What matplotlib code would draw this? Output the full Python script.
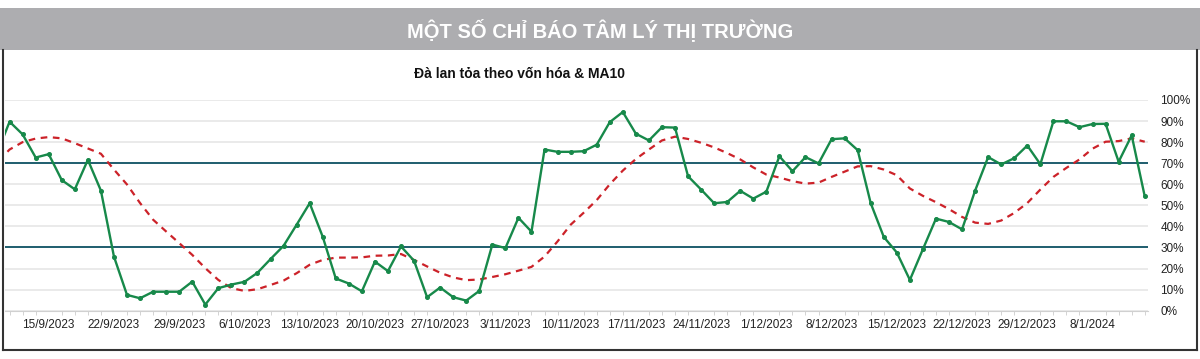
import matplotlib.pyplot as plt
from matplotlib.patches import Rectangle
from matplotlib.lines import Line2D

# breadth by market cap (%), one value per trading day, 11/9/2023 -> 12/1/2024
breadth = [74,
           89.7, 83.7, 72.7, 74.3, 62, 57.6, 71.6, 57, 25.7, 7.5,
           5.9, 9, 9, 9, 13.8, 2.9, 10.7, 12.4, 13.7, 18,
           24.5, 30.8, 40.8, 51, 35.1, 15.3, 12.9, 9.2, 23.3, 18.8,
           30.5, 23.7, 6.4, 11, 6.4, 4.8, 9.4, 31.4, 29.7, 44.1,
           37.5, 76.5, 75.4, 75.4, 75.7, 78.8, 89.5, 94.3, 84, 80.8,
           87.1, 86.9, 63.8, 57.5, 51, 51.6, 56.9, 53.2, 56.5, 73.3,
           66.2, 72.9, 69.9, 81.4, 81.8, 76.2, 51, 35, 27.6, 14.6,
           29.2, 43.7, 42.1, 38.6, 57, 72.9, 69.4, 72.4, 78.4, 69.5,
           89.9, 89.9, 87.1, 88.6, 88.7, 70.7, 83.2, 54.3]

ma10 = [70,
        76.5, 80, 81.7, 82.4, 81.8, 79.5, 77, 74.5, 67, 59.9,
        51.1, 43.2, 37.6, 32.1, 26.5, 20.2, 14.6, 10.7, 9.4, 10.2,
        12.2, 14.3, 17.8, 21.8, 24.1, 25.2, 25.2, 25.3, 26.1, 26.2,
        26.9, 24.1, 21, 18, 15.8, 14.5, 14.8, 16, 17.3, 19,
        20.8, 25.7, 32.9, 40.8, 46.5, 52.5, 60, 66.5, 72, 76.5,
        80.8, 82.6, 81.5, 79.7, 77.5, 74.8, 71.8, 68, 64.6, 63.2,
        61.5, 60.3, 60.8, 63.5, 66, 68.5, 68.6, 67, 64.3, 58,
        54.5, 51.5, 48.2, 44.5, 41.8, 41.2, 42.8, 46.4, 51.1, 57.5,
        63.5, 67.8, 71.8, 76.9, 80.2, 80.5, 81.8, 80.2]

date_labels = ['15/9/2023', '22/9/2023', '29/9/2023', '6/10/2023', '13/10/2023',
               '20/10/2023', '27/10/2023', '3/11/2023', '10/11/2023', '17/11/2023',
               '24/11/2023', '1/12/2023', '8/12/2023', '15/12/2023', '22/12/2023',
               '29/12/2023', '8/1/2024']

upper_band = 70
lower_band = 30

x = list(range(-1, len(breadth) - 1))
label_pos = [3 + 5 * i for i in range(len(date_labels))]

plt.rcParams['font.family'] = ['Liberation Sans', 'DejaVu Sans']

fig = plt.figure(figsize=(12, 3.59), dpi=100)

# grey banner + frame
fig.patches.append(Rectangle((0, 1 - 50 / 359), 1, 42 / 359, transform=fig.transFigure,
                             facecolor='#adadb0', edgecolor='none', zorder=0))
fig.text(0.5, 1 - 30 / 359, 'MỘT SỐ CHỈ BÁO TÂM LÝ THỊ TRƯỜNG', ha='center', va='center',
         color='white', fontsize=14.5, fontweight='bold')
frame = [((3 / 1200, 3 / 1200), (1 - 50 / 359, 1 - 350 / 359)),
         ((3 / 1200, 1197 / 1200), (1 - 350 / 359, 1 - 350 / 359)),
         ((1197 / 1200, 1197 / 1200), (1 - 50 / 359, 1 - 350 / 359))]
for xs, ys in frame:
    fig.lines.append(Line2D(xs, ys, transform=fig.transFigure, color='#333333', lw=1.5))

fig.text(520 / 1200, 1 - 74 / 359, 'Đà lan tỏa theo vốn hóa & MA10', ha='center', va='center',
         fontsize=10, fontweight='bold', color='#111111')

ax = fig.add_axes([5 / 1200, 1 - 310.7 / 359, 1143 / 1200, 210.7 / 359])

ax.axhline(upper_band, color='#1f5e6e', lw=1.4, zorder=2)
ax.axhline(lower_band, color='#1f5e6e', lw=1.4, zorder=2)
ax.plot(x, ma10, color='#cc2229', lw=1.6, ls=(0, (3, 2.5)), zorder=3)
ax.plot(x, breadth, color='#17894a', lw=1.7, marker='o', ms=2.6, zorder=4)

ax.set_xlim(-0.35, 87.25)
ax.set_ylim(0, 100)
ax.set_yticks(range(0, 101, 10))
ax.set_yticklabels([f'{v}%' for v in range(0, 101, 10)])
ax.yaxis.tick_right()
ax.tick_params(axis='y', length=0, pad=9, labelsize=8.5, labelcolor='#222222')
ax.grid(axis='y', color='#e6e6e6', lw=1.2)
ax.set_axisbelow(True)

ax.set_xticks(label_pos)
ax.set_xticklabels(date_labels, fontsize=8.5, color='#222222')
ax.set_xticks(range(0, 88), minor=True)
ax.tick_params(axis='x', which='major', length=0, pad=6)
ax.tick_params(axis='x', which='minor', length=3, color='#cccccc')

for s in ['top', 'left', 'right']:
    ax.spines[s].set_visible(False)
ax.spines['bottom'].set_color('#d0d0d0')

fig.savefig('out.png', dpi=100)
